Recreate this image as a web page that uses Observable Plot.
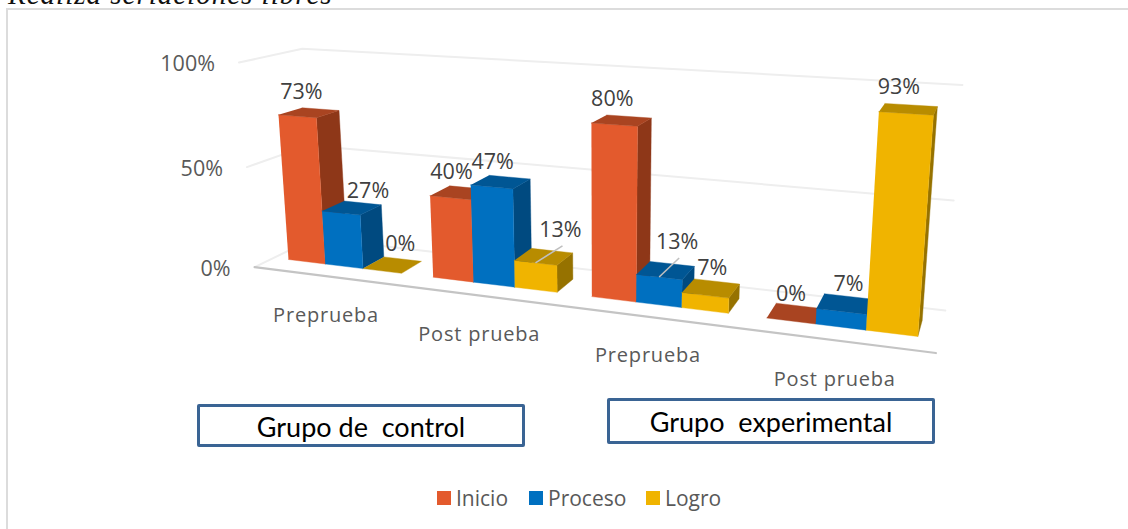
<!DOCTYPE html>
<html lang="es">
<head>
<meta charset="utf-8">
<script src="https://cdn.jsdelivr.net/npm/d3@7"></script>
<script src="https://cdn.jsdelivr.net/npm/@observablehq/plot@0.6"></script>
<style>
  html, body { margin: 0; padding: 0; background: #fff; overflow: hidden; }
  #page { position: relative; width: 1128px; height: 529px; overflow: hidden; }
  #frame { position: absolute; left: 6px; top: 8px; right: -4px; bottom: -4px; border: 2px solid #dcdcdc; }
  #clipped { position: absolute; left: 8px; top: -21px; font: italic 29px/30px "Liberation Serif", serif; letter-spacing: 1px; color: #111; white-space: nowrap; }
  #chart { position: absolute; left: 0; top: 0; }
  .cat text { letter-spacing: 0.8px; }
  .box { position: absolute; box-sizing: border-box; width: 328px; border: 3px solid #3a6494; border-radius: 2px; background: #fff;
         font: 27px Lato, sans-serif; color: #000; text-align: center; white-space: pre; }
  #legend { position: absolute; left: 0; top: 484px; width: 1128px; height: 28px; font: 21px "Open Sans", sans-serif; color: #595959; }
  #legend span.k { position: absolute; top: 7px; width: 14px; height: 14px; }
  #legend span.t { position: absolute; top: 0; line-height: 28px; }
</style>
</head>
<body>
<div id="page">
  <div id="clipped">Realiza seriaciones libres</div>
  <div id="frame"></div>
  <div id="chart"></div>
  <div class="box" style="left:197px;top:404px;height:43px;line-height:39px">Grupo de  control</div>
  <div class="box" style="left:607px;top:398px;height:46px;line-height:42px">Grupo  experimental</div>
  <div id="legend"></div>
</div>
<script>
// ---- Data ----
const groups = ["Preprueba", "Post prueba", "Preprueba", "Post prueba"];
const seriesNames = ["Inicio", "Proceso", "Logro"];
const inicio  = [73, 40, 80, 0];
const proceso = [27, 47, 13, 7];
const logro   = [0, 13, 7, 93];
const yTicks  = [0, 50, 100];

// ---- Styles ----
const frontColors = ["#E35A2D", "#0070C0", "#F0B400"];
const topColors   = ["#A94421", "#005694", "#B88C00"];
const sideColors  = ["#8E3718", "#004A80", "#967200"];
// label offsets from the bar's front-top centre, per series and group
const labelDx = [[4, 1, -2, 0], [27, 1, 18, 7], [18, 25, 7, -7]];
const labelDy = [[-24, -26, -26, -27], [-22, -25, -35, -27], [-27, -33, -27, -26]];
const hasLeader = [[0,0,0,0],[0,0,1,0],[0,1,0,0]];

// ---- Perspective of the 3-D chart: (u along categories, v value, d depth) -> pixels ----
function project(u, v, d) {
  const w = 1 - 0.011626 * u - 0.0004216 * v + 0.031 * d;
  return [(288 + 33.04 * u - 0.2542 * v + 32.2 * d) / w,
          (259 + 1.441 * u - 2.03 * v - 3.5 * d) / w];
}
const pt = (u, v, d, id) => { const [x, y] = project(u, v, d); return {x, y, id}; };
const quad = (id, a, b, c, e) => [pt(...a, id), pt(...b, id), pt(...c, id), pt(...e, id)];

const groupStep = 3.8, uMin = -0.4, uMax = 14.8, dMin = -0.8, dMax = 1.8;
const values = [inicio, proceso, logro];

const marks = [];
// walls' gridlines
for (const t of yTicks) {
  const grid = [pt(uMin, t, dMin, t), pt(uMin, t, dMax, t), pt(uMax, t, dMax, t)];
  marks.push(Plot.line(grid, {x: "x", y: "y", stroke: "#eeeeee", strokeWidth: 2}));
}
// floor axis
marks.push(Plot.line([pt(uMin, 0, dMin, "axis"), pt(uMax, 0, dMin, "axis")],
  {x: "x", y: "y", stroke: "#c4c4c4", strokeWidth: 2.2}));

// bars, painted from left to right
const labels = [], leaders = [];
groups.forEach((g, gi) => {
  seriesNames.forEach((s, si) => {
    const v = values[si][gi], u0 = gi * groupStep + si, u1 = u0 + 1;
    const fill = (pts, color) => marks.push(Plot.line(pts, {x: "x", y: "y", fill: color, stroke: color, strokeWidth: 0.4}));
    if (v > 0) {
      fill(quad("s", [u1, 0, 0], [u1, 0, 1], [u1, v, 1], [u1, v, 0]), sideColors[si]);
      fill(quad("f", [u0, 0, 0], [u1, 0, 0], [u1, v, 0], [u0, v, 0]), frontColors[si]);
    }
    fill(quad("t", [u0, v, 0], [u1, v, 0], [u1, v, 1], [u0, v, 1]), topColors[si]);
    const [x, y] = project(u0 + 0.5, v, 0);
    const dx = labelDx[si][gi], dy = labelDy[si][gi];
    labels.push({x, y, dx, dy, text: v + "%"});
    if (hasLeader[si][gi]) leaders.push({x1: x, y1: y, x2: x + dx + 2, y2: y + dy + 16});
  });
});
marks.push(Plot.link(leaders, {x1: "x1", y1: "y1", x2: "x2", y2: "y2", stroke: "#bfbfbf", strokeWidth: 1.6}));
for (const l of labels) {
  marks.push(Plot.text([l], {x: "x", y: "y", text: "text", dx: l.dx, dy: l.dy, fontSize: 21.5,
    fill: "#404040", fontFamily: "Open Sans"}));
}
// value axis labels
marks.push(Plot.text(yTicks.map(t => { const [x, y] = project(uMin, t, dMin); return {x, y, text: t + "%"}; }),
  {x: "x", y: "y", text: "text", dx: -24, dy: 2, textAnchor: "end", fontSize: 21.5, fill: "#595959", fontFamily: "Open Sans"}));
// category labels
marks.push(Plot.text(groups.map((g, gi) => { const [x, y] = project(gi * groupStep + 1.5, 0, dMin); return {x, y, text: g}; }),
  {x: "x", y: "y", text: "text", dy: 39, fontSize: 20, fill: "#595959", fontFamily: "Open Sans", className: "cat"}));

const H = 480;
const plot = Plot.plot({
  width: 1128, height: H, margin: 0,
  x: {type: "linear", domain: [0, 1128], range: [0, 1128], axis: null},
  y: {type: "linear", domain: [0, H], range: [0, H], axis: null},
  style: {background: "transparent", overflow: "visible"},
  marks
});
document.getElementById("chart").appendChild(plot);

// legend
const legend = document.getElementById("legend");
const swatchX = [437, 529, 646];
seriesNames.forEach((s, i) => {
  const k = document.createElement("span"); k.className = "k";
  k.style.left = swatchX[i] + "px"; k.style.background = frontColors[i];
  const t = document.createElement("span"); t.className = "t";
  t.style.left = (swatchX[i] + 19) + "px"; t.textContent = s;
  legend.append(k, t);
});
</script>
</body>
</html>
